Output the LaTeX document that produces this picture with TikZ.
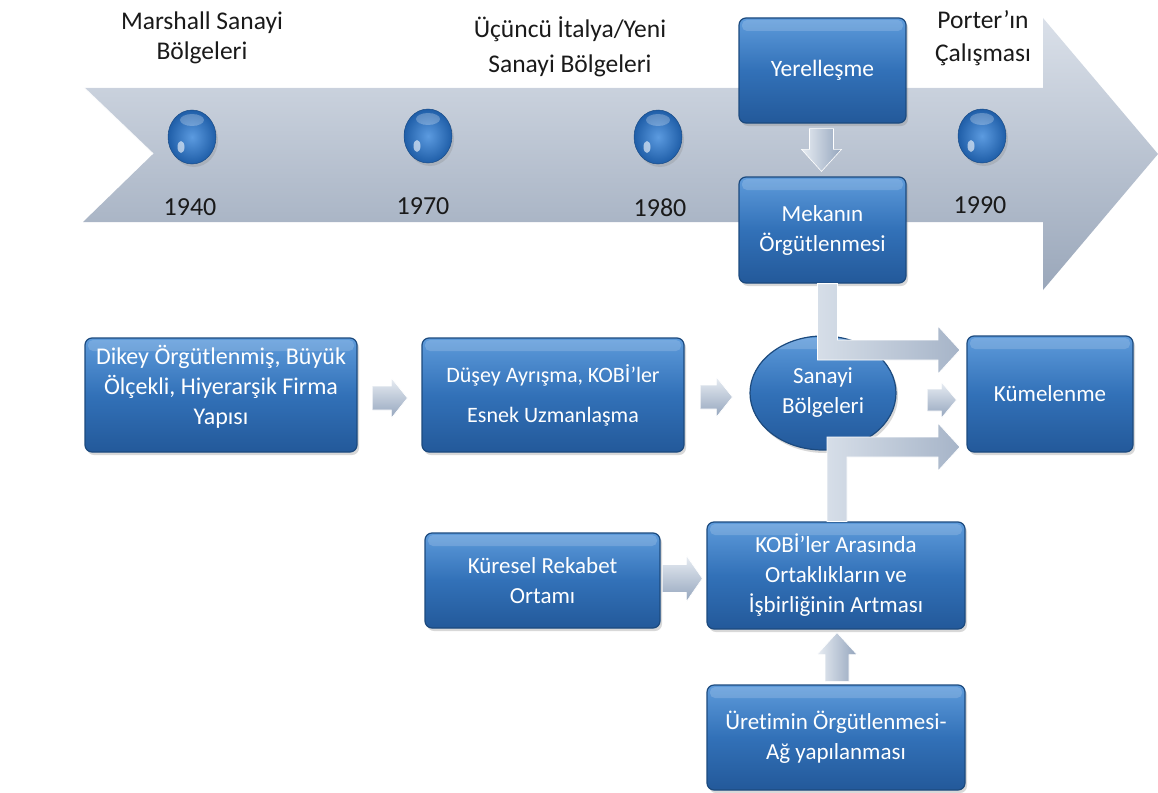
\documentclass[tikz,border=0pt]{standalone}
\usepackage{fontspec}
\setmainfont{Carlito}[Ligatures=NoCommon]
\usetikzlibrary{shapes.geometric,shadows,calc}

\definecolor{boxtop}{HTML}{5E9BDB}
\definecolor{boxmid}{HTML}{3271B8}
\definecolor{boxbot}{HTML}{23599A}
\definecolor{boxline}{HTML}{1C4A7E}
\definecolor{tltop}{HTML}{DAE0E9}
\definecolor{tlbot}{HTML}{9AA7BA}
\definecolor{artop}{HTML}{E8EDF3}
\definecolor{arbot}{HTML}{94A5BD}
\definecolor{bentl}{HTML}{D6DEE8}
\definecolor{bentr}{HTML}{A6B4C8}
\definecolor{txt}{HTML}{1A1A1A}
\definecolor{sphin}{HTML}{5C9BE0}
\definecolor{sphout}{HTML}{1F5EA8}

% straight block arrow: start, tip, shaft half, head half, head length
\newcommand\rblk[5]{\shade[garrowh] let \p1=#1, \p2=#2 in
  (\x1,\y1+#3) -- (\x2-#5,\y1+#3) -- (\x2-#5,\y1+#4) -- (\x2,\y1) --
  (\x2-#5,\y1-#4) -- (\x2-#5,\y1-#3) -- (\x1,\y1-#3) -- cycle;}
% vertical block arrow: start, tip, shaft half, head half, signed head length
\newcommand\vblk[5]{\shade[garrowv] let \p1=#1, \p2=#2 in
  (\x1-#3,\y1) -- (\x1+#3,\y1) -- (\x1+#3,\y2+#5) -- (\x1+#4,\y2+#5) -- (\x1,\y2) --
  (\x1-#4,\y2+#5) -- (\x1-#3,\y2+#5) -- cycle;}

\begin{document}
\begin{tikzpicture}[x=1pt,y=-1pt,
  bluebox/.style={draw=boxline, line width=1.2pt, rounded corners=7pt,
    top color=boxtop, bottom color=boxbot, middle color=boxmid,
    text=white, align=center, inner sep=0pt,
    drop shadow={opacity=0.3, shadow xshift=2pt, shadow yshift=-3pt},
    path picture={\fill[white,opacity=0.16,rounded corners=5pt]
      ([xshift=3pt,yshift=-2pt]path picture bounding box.north west) rectangle
      ([xshift=-3pt,yshift=-13pt]path picture bounding box.north east);}},
  bfont/.style={font=\fontsize{#1}{30}\selectfont},
  boxtext/.style={text=white, align=center, inner sep=0pt},
  lbl/.style={text=txt, align=center, inner sep=0pt, font=\fontsize{25.5}{30}\selectfont},
  yr/.style={text=txt, inner sep=0pt, font=\fontsize{26}{30}\selectfont},
  sphere/.style={ellipse, minimum width=48pt, minimum height=54pt, inner sep=0pt,
    inner color=sphin, outer color=sphout, draw=sphout!80!black, line width=0.5pt,
    drop shadow={opacity=0.25, shadow xshift=2pt, shadow yshift=-3pt},
    path picture={\fill[white,opacity=0.6]
      ([xshift=-11pt,yshift=-10pt]path picture bounding box.center)
      ellipse [x radius=3.5pt, y radius=6pt];
      \fill[white,opacity=0.25]
      ([yshift=17pt]path picture bounding box.center)
      ellipse [x radius=12pt, y radius=6pt];}},
  garrowh/.style={top color=artop, bottom color=arbot, draw=white, line width=0.6pt},
  garrowv/.style={left color=artop, right color=arbot, draw=white, line width=0.6pt},
  bent/.style={left color=bentl, right color=bentr, draw=white, line width=0.8pt},
]
\useasboundingbox (0,0) rectangle (1158,792);
\fill[white] (0,0) rectangle (1158,792);

% timeline arrow
\shade[top color=tltop, bottom color=tlbot]
  (83,87) -- (1043,87) -- (1043,18) -- (1158,154) -- (1043,290) -- (1043,222)
  -- (83,222) -- (153,154) -- cycle;
\draw[white, line width=1.5pt, opacity=0.9] (83,87) -- (153,154);
\draw[white, line width=1.5pt, opacity=0.9] (83,87) -- (1043,87);

% spheres and years
\node[sphere] (s1) at (192,137) {};
\node[sphere] (s2) at (428,136) {};
\node[sphere] (s3) at (658,137) {};
\node[sphere] (s4) at (982,136) {};
\node[yr] (y1) at (190,207) {1940};
\node[yr] (y2) at (423,206) {1970};
\node[yr] (y3) at (660,208) {1980};
\node[yr] (y4) at (980,205) {1990};

% top labels
\node[lbl] (l1) at (202,38) {Marshall Sanayi\\Bölgeleri};
\node[lbl] (l2) at (570,47) {Üçüncü İtalya/Yeni\\[5pt]Sanayi Bölgeleri};
\node[lbl] (l3) at (983,38) {Porter’ın\\[3pt]Çalışması};

% blue boxes
\node[bluebox, bfont=23.5, minimum width=167pt, minimum height=105pt] (yer) at (822.5,70.5) {Yerelleşme};
\node[bluebox, bfont=23, minimum width=167pt, minimum height=106pt] (mek) at (822.5,230) {Mekanın\\Örgütlenmesi};
\node[bluebox, minimum width=272pt, minimum height=114pt] (dikey) at (221,395) {};
\node[boxtext, bfont=24] (dikeyt) at ($(dikey.center)+(0,-8)$) {Dikey Örgütlenmiş, Büyük\\Ölçekli, Hiyerarşik Firma\\Yapısı};
\node[bluebox, bfont=22, minimum width=262pt, minimum height=114pt] (dusey) at (553,395) {Düşey Ayrışma, KOBİ’ler\\[10pt]Esnek Uzmanlaşma};
\node[bluebox, bfont=23, minimum width=166pt, minimum height=116pt] (kume) at (1050,394) {Kümelenme};
\node[bluebox, bfont=23, minimum width=235pt, minimum height=95pt] (kures) at (542.5,580.5) {Küresel Rekabet\\Ortamı};
\node[bluebox, bfont=23, minimum width=258pt, minimum height=107pt] (kobi) at (836,575.5) {KOBİ’ler Arasında\\Ortaklıkların ve\\İşbirliğinin Artması};
\node[bluebox, bfont=23, minimum width=258pt, minimum height=105pt] (uret) at (836,737.5) {Üretimin Örgütlenmesi-\\Ağ yapılanması};
\node[bluebox, ellipse, rounded corners=0pt, bfont=23, minimum width=146pt, minimum height=114pt] (ell) at (823,393) {Sanayi\\Bölgeleri};

% straight block arrows
\vblk{($(yer.south)+(-1,5)$)}{($(mek.north)+(-1,-5)$)}{12}{20}{22}
\rblk{($(dikey.east)+(15,3)$)}{($(dusey.west)+(-14,0)$)}{12}{20}{16}
\rblk{($(dusey.east)+(16,2)$)}{($(ell.west)+(-17,0)$)}{12}{20}{16}
\rblk{($(ell.east)+(31,7)$)}{($(kume.west)+(-10,0)$)}{11}{18}{15}
\rblk{($(kures.east)+(2,-2)$)}{($(kobi.west)+(-4,0)$)}{14}{23}{16}
\vblk{($(uret.north)+(1,-3)$)}{($(kobi.south)+(1,3)$)}{12}{20}{-22}

% bent block arrows
\coordinate (ub) at (960,350);
\coordinate (lb) at (960,447);
\shade[bent] let \p1=($(mek.south)+(5,0)$), \p2=(ub) in
  (\x1-10,\y1) -- (\x1+10,\y1) -- (\x1+10,\y2+10) -- (\x2-22,\y2+10) -- (\x2-22,\y2+24)
  -- (\x2,\y2) -- (\x2-22,\y2-24) -- (\x2-22,\y2-10) -- (\x1-10,\y2-10) -- cycle;
\shade[bent] let \p1=($(kobi.north)+(1,0)$), \p2=(lb) in
  (\x1-10,\y1) -- (\x1+10,\y1) -- (\x1+10,\y2-10) -- (\x2-22,\y2-10) -- (\x2-22,\y2-24)
  -- (\x2,\y2) -- (\x2-22,\y2+24) -- (\x2-22,\y2+10) -- (\x1-10,\y2+10) -- cycle;
\end{tikzpicture}
\end{document}
